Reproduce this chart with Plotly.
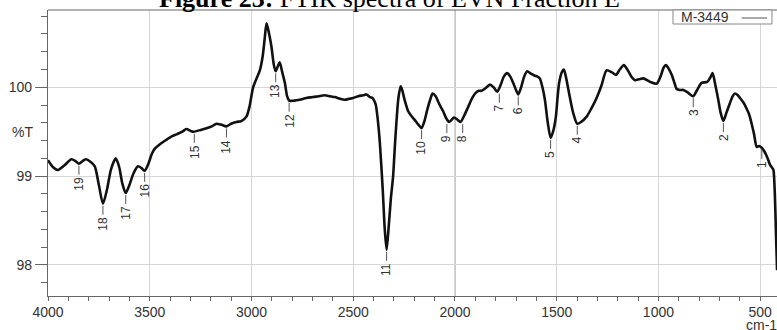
import plotly.graph_objects as go

# FTIR spectrum of sample M-3449 (wavenumber in cm-1, transmittance in %T)
wavenumber = [
    4000, 3975, 3951, 3920, 3885, 3865, 3848, 3830, 3815, 3790, 3770, 3750,
    3730, 3710, 3690, 3667, 3650, 3635, 3618, 3600, 3580, 3558, 3540, 3525,
    3505, 3490, 3475, 3450, 3418, 3390, 3369, 3340, 3320, 3300, 3284, 3250,
    3221, 3195, 3172, 3150, 3123, 3100, 3074, 3050, 3025, 3010, 2992, 2975,
    2959, 2945, 2935, 2926, 2915, 2902, 2890, 2881, 2870, 2861, 2850, 2836,
    2825, 2815, 2790, 2763, 2730, 2697, 2670, 2640, 2615, 2590, 2565, 2541,
    2520, 2500, 2475, 2451, 2435, 2418, 2405, 2395, 2389, 2380, 2369, 2355,
    2345, 2336, 2325, 2315, 2304, 2295, 2287, 2278, 2267, 2258, 2251, 2240,
    2230, 2215, 2197, 2180, 2164, 2150, 2137, 2122, 2110, 2095, 2083, 2070,
    2058, 2045, 2029, 2018, 2005, 1990, 1973, 1955, 1935, 1915, 1897, 1882,
    1869, 1850, 1828, 1810, 1792, 1775, 1760, 1743, 1728, 1714, 1700, 1689,
    1675, 1660, 1645, 1625, 1607, 1595, 1583, 1570, 1558, 1545, 1530, 1518,
    1504, 1496, 1488, 1475, 1465, 1455, 1439, 1420, 1399, 1380, 1353, 1330,
    1304, 1280, 1255, 1230, 1209, 1190, 1170, 1150, 1130, 1116, 1095, 1075,
    1040, 1009, 990, 975, 963, 950, 935, 920, 910, 895, 878, 855,
    829, 810, 788, 760, 745, 734, 720, 706, 695, 681, 665, 649,
    635, 624, 610, 599, 580, 567, 555, 542, 530, 517, 505, 492,
    480, 471, 460, 452, 440, 435, 428, 422, 417,
]
transmittance = [
    99.18, 99.10, 99.07, 99.12, 99.19, 99.17, 99.14, 99.17, 99.19, 99.16, 99.11, 98.90,
    98.69, 98.85, 99.08, 99.20, 99.10, 98.92, 98.81, 98.90, 99.03, 99.11, 99.09, 99.06,
    99.15, 99.25, 99.31, 99.36, 99.41, 99.45, 99.47, 99.50, 99.53, 99.51, 99.50, 99.52,
    99.54, 99.56, 99.59, 99.58, 99.56, 99.59, 99.61, 99.62, 99.67, 99.78, 100.00, 100.10,
    100.19, 100.35, 100.55, 100.72, 100.62, 100.46, 100.25, 100.18, 100.24, 100.28, 100.18, 100.05,
    99.90, 99.85, 99.85, 99.86, 99.88, 99.89, 99.90, 99.91, 99.90, 99.89, 99.87, 99.86,
    99.87, 99.88, 99.90, 99.91, 99.92, 99.89, 99.88, 99.84, 99.80, 99.65, 99.37, 98.85,
    98.40, 98.17, 98.45, 98.75, 99.00, 99.35, 99.63, 99.88, 100.01, 99.96, 99.89, 99.80,
    99.73, 99.68, 99.63, 99.58, 99.54, 99.62, 99.74, 99.86, 99.93, 99.90, 99.84, 99.78,
    99.73, 99.66, 99.61, 99.63, 99.66, 99.64, 99.61, 99.68, 99.78, 99.88, 99.94, 99.96,
    99.96, 99.99, 100.03, 100.00, 99.95, 100.03, 100.12, 100.16, 100.12, 100.05, 99.97, 99.92,
    100.00, 100.12, 100.18, 100.15, 100.13, 100.12, 100.10, 100.00, 99.86, 99.62, 99.43, 99.50,
    99.67, 99.88, 100.05, 100.17, 100.20, 100.12, 99.93, 99.72, 99.59, 99.61, 99.67, 99.76,
    99.88, 100.02, 100.19, 100.17, 100.14, 100.20, 100.25, 100.19, 100.11, 100.08, 100.09, 100.10,
    100.06, 100.04, 100.12, 100.22, 100.25, 100.21, 100.14, 100.04, 99.98, 99.97, 99.97, 99.94,
    99.90, 99.97, 100.05, 100.06, 100.11, 100.16, 100.02, 99.86, 99.72, 99.62, 99.72, 99.82,
    99.90, 99.93, 99.91, 99.88, 99.82, 99.76, 99.70, 99.59, 99.47, 99.33, 99.34, 99.32,
    99.28, 99.24, 99.18, 99.13, 99.09, 99.07, 98.80, 98.32, 97.94,
]

# Numbered absorption bands (label, wavenumber, %T at the band)
peak_labels = ["1", "2", "3", "4", "5", "6", "7", "8", "9", "10",
               "11", "12", "13", "14", "15", "16", "17", "18", "19"]
peak_wn = [492, 681, 829, 1399, 1530, 1689, 1782, 1962, 2040, 2164,
           2336, 2815, 2881, 3123, 3281, 3525, 3618, 3730, 3848]
peak_t = [99.32, 99.62, 99.90, 99.59, 99.43, 99.92, 99.95, 99.61, 99.61, 99.54,
          98.17, 99.85, 100.18, 99.56, 99.50, 99.06, 98.81, 98.69, 99.14]

x_ticks = [4000, 3500, 3000, 2500, 2000, 1500, 1000, 500]
y_ticks = [98, 99, 100]
series_name = "M-3449"

SANS = "Liberation Sans, Arial, sans-serif"
SERIF = "Liberation Serif, Times New Roman, serif"
TXT = "#333333"
AXIS = "#666666"
GRID = "#d6d6d6"

fig = go.Figure()
fig.add_trace(go.Scatter(
    x=wavenumber, y=transmittance, mode="lines", name=series_name,
    line=dict(color="#111111", width=2.6, shape="spline", smoothing=0.7),
    showlegend=False, hoverinfo="x+y",
))

annotations = []
shapes = []
for lab, wn, t in zip(peak_labels, peak_wn, peak_t):
    # short leader line hanging below the band, then the rotated band number
    shapes.append(dict(
        type="line", xref="x", yref="y", x0=wn, x1=wn,
        ysizemode="pixel", yanchor=t, y0=-2, y1=-11,
        line=dict(color="#555555", width=1),
    ))
    annotations.append(dict(
        x=wn, y=t, xref="x", yref="y", text=lab, textangle=-90,
        showarrow=False, xanchor="center", yanchor="top", yshift=-12,
        borderpad=0, font=dict(family=SANS, size=12, color=TXT),
    ))

# title, axis captions and the legend entry
annotations += [
    dict(x=0.468, y=1.0, xref="paper", yref="paper", xanchor="center", yanchor="bottom",
         yshift=-5, text="<b>Figure 23:</b> FTIR spectra of EVN Fraction E", showarrow=False,
         font=dict(family=SERIF, size=26, color="#000000")),
    dict(x=-0.035, y=0.572, xref="paper", yref="paper", xanchor="center", yanchor="middle",
         text="%T", showarrow=False, font=dict(family=SANS, size=14, color=TXT)),
    dict(x=0.979, y=-0.101, xref="paper", yref="paper", xanchor="center", yanchor="middle",
         text="cm-1", showarrow=False, font=dict(family=SANS, size=14, color=TXT)),
    dict(x=0.8665, y=0.9755, xref="paper", yref="paper", xanchor="left", yanchor="middle",
         text=series_name, showarrow=False, borderpad=0,
         font=dict(family=SANS, size=14, color=TXT)),
]

shapes += [
    # darker grid line where the wavenumber scale changes
    dict(type="line", xref="x", yref="paper", x0=2000, x1=2000, y0=0, y1=1,
         line=dict(color="#8a8a8a", width=1), layer="below"),
    # top border
    dict(type="line", xref="paper", yref="paper", x0=0, x1=1, y0=1, y1=1,
         line=dict(color=AXIS, width=1.2)),
    # legend box and line sample
    dict(type="rect", xref="paper", yref="paper", x0=0.8573, x1=0.9931, y0=0.951, y1=1.0,
         line=dict(color="#888888", width=1), fillcolor="white"),
    dict(type="line", xref="paper", yref="paper", x0=0.9516, x1=0.9863, y0=0.972, y1=0.972,
         line=dict(color="#555555", width=1)),
]

fig.update_layout(
    width=777, height=330, autosize=False,
    margin=dict(l=48, r=0, t=10, b=34, pad=0),
    paper_bgcolor="white", plot_bgcolor="white",
    annotations=annotations, shapes=shapes,
    font=dict(family=SANS, color=TXT),
)
fig.update_xaxes(
    range=[4000, 417.4], tickmode="array", tickvals=x_ticks,
    ticktext=[str(v) for v in x_ticks],
    ticks="outside", ticklen=4, tickcolor=AXIS, tickwidth=1,
    showgrid=True, gridcolor=GRID, gridwidth=1.2,
    showline=True, linecolor=AXIS, linewidth=1.2, zeroline=False,
    tickfont=dict(family=SANS, size=14, color=TXT), ticklabelstandoff=-1,
    minor=dict(tick0=0, dtick=100, ticks="outside", ticklen=4, tickcolor=AXIS, showgrid=False),
)
fig.update_yaxes(
    range=[97.651, 100.870], tickmode="array", tickvals=y_ticks,
    ticktext=[str(v) for v in y_ticks],
    ticks="outside", ticklen=12, tickcolor=AXIS, tickwidth=1,
    showgrid=True, gridcolor=GRID, gridwidth=1.2,
    showline=True, linecolor=AXIS, linewidth=1.2, zeroline=False,
    tickfont=dict(family=SANS, size=14, color=TXT),
    minor=dict(tick0=98, dtick=0.2, ticks="outside", ticklen=6, tickcolor=AXIS, showgrid=False),
)

fig.write_html("out.html")
